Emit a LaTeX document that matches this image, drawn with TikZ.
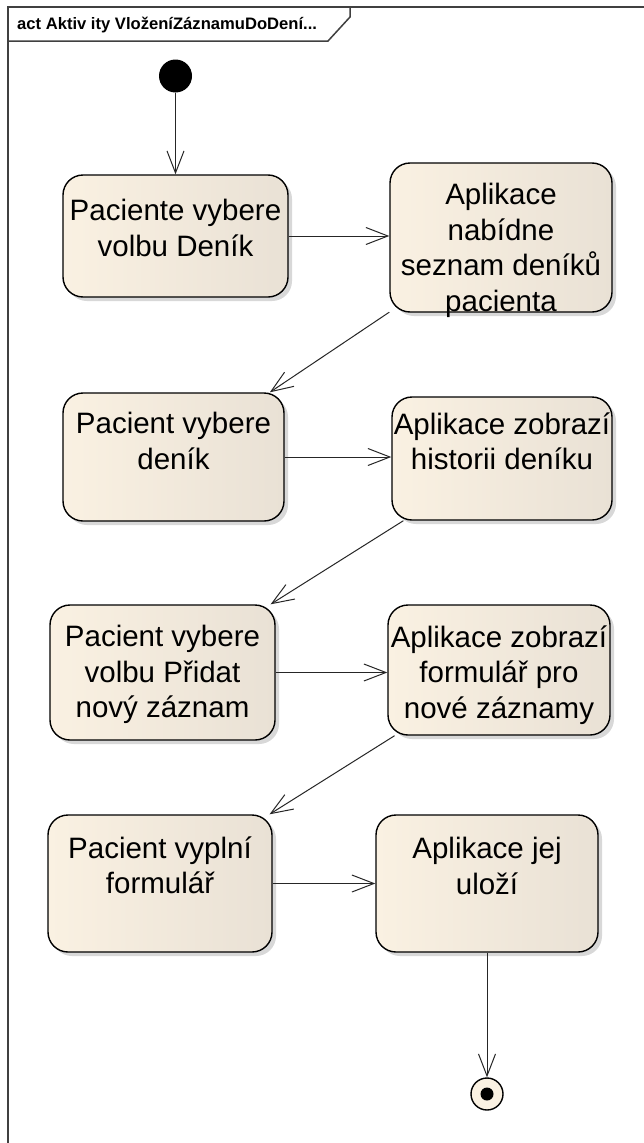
\documentclass[tikz,border=0pt]{standalone}
\usepackage{fontspec}
\setmainfont{Liberation Sans}
\usetikzlibrary{arrows.meta,positioning,shadows}
\definecolor{actl}{RGB}{250,241,226}
\definecolor{actr}{RGB}{233,225,213}
\definecolor{framegray}{RGB}{64,64,64}

\begin{document}
\begin{tikzpicture}[x=1pt,y=-1pt,>={Straight Barb[length=22pt,width=17pt]},
  action/.style={draw,line width=1.4pt,rounded corners=20pt,left color=actl,right color=actr,
    drop shadow={shadow xshift=4pt,shadow yshift=-4pt,fill=black!30},inner sep=0pt},
  txt/.style={font=\fontsize{29.5}{35.5}\selectfont,align=center,inner sep=0pt},
  flow/.style={->,line width=1pt,draw=black!85},
  frame/.style={draw=framegray,line width=1.5pt}]
\clip (0,0) rectangle (644,1143);
\fill[white] (0,0) rectangle (644,1143);
% frame and its tab
\draw[frame] (8,1150) -- (8,7) -- (650,7);
\draw[frame] (8,41) -- (328,41) -- (350,17) -- (350,7);
\node[anchor=base west,inner sep=0pt,font=\bfseries\fontsize{16.6}{19}\selectfont] (title) at (17,29) {act Aktiv ity VloženíZáznamuDoDení...};
% start and end
\node[circle,fill=black,minimum size=33pt,inner sep=0pt] (start) at (175.5,76) {};
\node[circle,draw,line width=1.4pt,fill=actl,minimum size=32pt,inner sep=0pt] (end) at (487,1094) {};
\node[circle,fill=black,minimum size=13pt,inner sep=0pt] (endDot) at (end) {};
% actions
\node[action,minimum width=225pt,minimum height=122pt] (n1) at (175.5,236) {};
\node[action,minimum width=222pt,minimum height=149pt] (n2) at (501,237.5) {};
\node[action,minimum width=221pt,minimum height=128pt] (n3) at (173.5,457) {};
\node[action,minimum width=220pt,minimum height=123pt] (n4) at (502,458.5) {};
\node[action,minimum width=225pt,minimum height=135pt] (n5) at (162.5,672.5) {};
\node[action,minimum width=222pt,minimum height=130pt] (n6) at (499,670) {};
\node[action,minimum width=224pt,minimum height=137pt] (n7) at (160,883.5) {};
\node[action,minimum width=222pt,minimum height=137pt] (n8) at (487,883.5) {};
\node[txt,below=25pt of n1.north] (t1) {Paciente vybere\\volbu Deník};
\node[txt,below=21pt of n2.north] (t2) {Aplikace\\nabídne\\seznam deníků\\pacienta};
\node[txt,below=20pt of n3.north] (t3) {Pacient vybere\\deník};
\node[txt,below=16pt of n4.north] (t4) {Aplikace zobrazí\\historii deníku};
\node[txt,below=21pt of n5.north] (t5) {Pacient vybere\\volbu Přidat\\nový záznam};
\node[txt,below=21pt of n6.north] (t6) {Aplikace zobrazí\\formulář pro\\nové záznamy};
\node[txt,below=22pt of n7.north] (t7) {Pacient vyplní\\formulář};
\node[txt,below=23pt of n8.north] (t8) {Aplikace jej\\uloží};
% flows
\draw[flow] (start) -- (n1);
\draw[flow] (n1.east) -- (n1.east -| n2.west);
\draw[flow] (n2) -- (n3);
\draw[flow] (n3.east) -- (n3.east -| n4.west);
\draw[flow] (n4) -- (n5);
\draw[flow] (n5.east) -- (n5.east -| n6.west);
\draw[flow] (n6) -- (n7);
\draw[flow] (n7.east) -- (n7.east -| n8.west);
\draw[flow] (n8) -- (end);
\end{tikzpicture}
\end{document}
